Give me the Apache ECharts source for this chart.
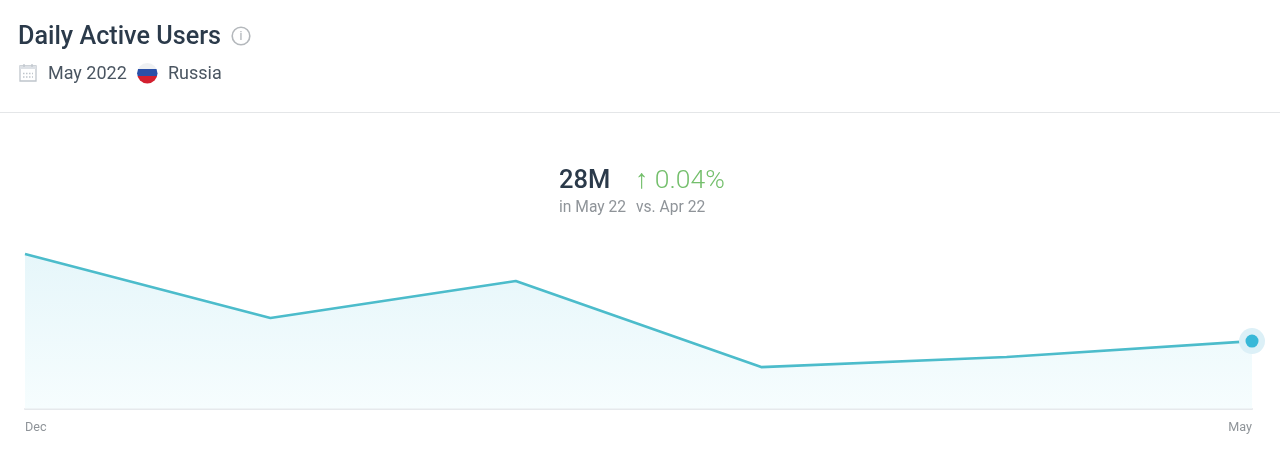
<!DOCTYPE html>
<html><head><meta charset="utf-8">
<style>html,body{margin:0;padding:0;background:#fff}#c{width:1280px;height:454px}</style>
<script src="https://cdn.jsdelivr.net/npm/echarts@6/dist/echarts.min.js"></script>
</head><body><div id="c"></div>
<script>
const categories = ['Dec', 'Jan', 'Feb', 'Mar', 'Apr', 'May'];
const tickLabels = ['Dec', '', '', '', '', 'May'];
const dauMillions = [64.2, 37.6, 53.0, 17.2, 21.4, 28.0];
const lastPoint = [null, null, null, null, null, 28.0];

const F = 'Roboto, sans-serif';
const chart = echarts.init(document.getElementById('c'), null, {renderer: 'canvas'});
const txt = (x, y, text, size, fill, weight) => ({
  type: 'text', x, y,
  style: {text, font: `${weight || 400} ${size}px ${F}`, fill, textVerticalAlign: 'middle'}
});
chart.setOption({
  animation: false,
  backgroundColor: '#fff',
  grid: {left: 25, right: 28, top: 240, bottom: 45.5},
  xAxis: {
    type: 'category', data: categories, boundaryGap: false,
    axisLine: {lineStyle: {color: '#e6e9ec', width: 2}},
    axisTick: {show: false},
    axisLabel: {
      color: '#8f9499', fontSize: 12.6, fontFamily: F, margin: 13,
      interval: 0, alignMinLabel: 'left', alignMaxLabel: 'right',
      formatter: (v, i) => tickLabels[i]
    }
  },
  yAxis: {type: 'value', min: 0, max: 70, show: false},
  series: [
    {
      type: 'line', data: dauMillions, symbol: 'none', silent: true,
      lineStyle: {color: '#4cbccb', width: 2.6},
      areaStyle: {opacity: 1, color: {type: 'linear', x: 0, y: 0, x2: 0, y2: 1, colorStops: [
        {offset: 0, color: '#e6f6fa'}, {offset: 1, color: '#f6fdfe'}
      ]}}
    },
    {type: 'scatter', data: lastPoint, symbolSize: 26, silent: true,
     itemStyle: {color: '#dcf0f7', opacity: 1}, z: 3},
    {type: 'scatter', data: lastPoint, symbolSize: 13, silent: true,
     itemStyle: {color: '#38b8d8', opacity: 1}, z: 4}
  ],
  graphic: [
    txt(18, 38, 'Daily Active Users', 25.2, '#2b3a4a', 500),
    {type: 'circle', shape: {cx: 241, cy: 36, r: 8.8}, style: {fill: 'none', stroke: '#b4b8bc', lineWidth: 1.6}},
    {type: 'text', x: 241, y: 37, style: {text: 'i', font: `400 12px ${F}`, fill: '#a6abb0', textAlign: 'center', textVerticalAlign: 'middle'}},

    {type: 'rect', shape: {x: 20, y: 66, width: 16, height: 15}, style: {fill: 'none', stroke: '#bfc5cc', lineWidth: 1.3}},
    {type: 'rect', shape: {x: 20, y: 66, width: 16, height: 3}, style: {fill: '#dde1e6'}},
    {type: 'line', shape: {x1: 24, y1: 64, x2: 24, y2: 67}, style: {stroke: '#bfc5cc', lineWidth: 1.3}},
    {type: 'line', shape: {x1: 32, y1: 64, x2: 32, y2: 67}, style: {stroke: '#bfc5cc', lineWidth: 1.3}},
    {type: 'line', shape: {x1: 23, y1: 73.5, x2: 33, y2: 73.5}, style: {stroke: '#bfc5cc', lineWidth: 1.3, lineDash: [1.5, 1.5]}},
    {type: 'line', shape: {x1: 23, y1: 77, x2: 33, y2: 77}, style: {stroke: '#bfc5cc', lineWidth: 1.3, lineDash: [1.5, 1.5]}},

    txt(48, 74, 'May 2022', 18, '#4a5561'),
    {type: 'circle', shape: {cx: 147.3, cy: 73.3, r: 10.2}, style: {fill: {type: 'linear', x: 0, y: 0, x2: 0, y2: 1, colorStops: [
      {offset: 0, color: '#eff1f3'}, {offset: 0.3, color: '#eff1f3'},
      {offset: 0.3, color: '#2a50a8'}, {offset: 0.63, color: '#2a50a8'},
      {offset: 0.63, color: '#d3202f'}, {offset: 1, color: '#d3202f'}
    ]}}},
    txt(168, 74, 'Russia', 18, '#4a5561'),

    {type: 'rect', shape: {x: 0, y: 112, width: 1280, height: 1}, style: {fill: '#e4e6e8'}},

    txt(559, 181.5, '28M', 25.5, '#2b3a4a', 500),
    txt(635, 181.5, '↑ 0.04%', 26.5, '#74bf6c', 300),
    txt(559, 208, 'in May 22', 15.6, '#8f9499'),
    txt(636, 208, 'vs. Apr 22', 15.6, '#8f9499')
  ]
});
</script></body></html>
